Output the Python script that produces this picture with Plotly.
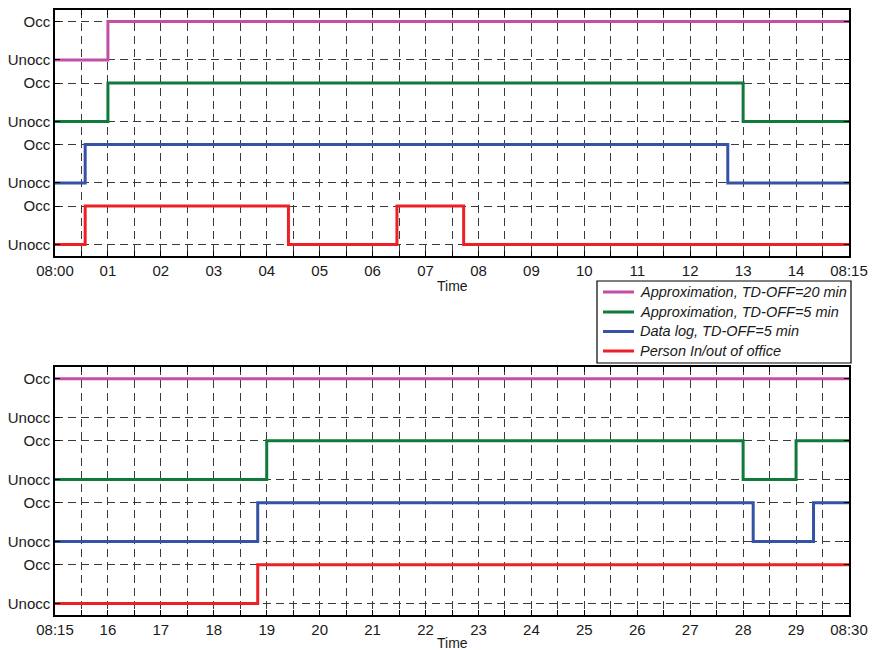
import plotly.graph_objects as go
from plotly.subplots import make_subplots

# ---- data: minutes after 08:00, state at each change (0 = Unocc, 1 = Occ) ----
series_names = [
    "Approximation, TD-OFF=20 min",
    "Approximation, TD-OFF=5 min",
    "Data log, TD-OFF=5 min",
    "Person In/out of office",
]
series_colors = ["#c24fa6", "#0f7a3c", "#3553a4", "#ec2027"]

# first window 08:00 - 08:15
top_times = [
    [0, 1, 15],
    [0, 1, 13, 15],
    [0, 0.57, 12.71, 15],
    [0, 0.57, 4.41, 6.46, 7.72, 15],
]
top_states = [
    [0, 1, 1],
    [0, 1, 0, 0],
    [0, 1, 0, 0],
    [0, 1, 0, 1, 0, 0],
]

# second window 08:15 - 08:30
bottom_times = [
    [15, 30],
    [15, 19, 28, 29, 30],
    [15, 18.83, 28.19, 29.33, 30],
    [15, 18.83, 30],
]
bottom_states = [
    [1, 1],
    [0, 1, 0, 1, 1],
    [0, 1, 0, 1, 1],
    [0, 1, 1],
]

top_ticktext = ["08:00"] + [f"{m:02d}" for m in range(1, 15)] + ["08:15"]
bottom_ticktext = ["08:15"] + [str(m) for m in range(16, 30)] + ["08:30"]

# vertical lane of each signal (top lane first)
lane_base = [4.8, 3.2, 1.6, 0.0]

FONT = "Liberation Sans, Arial, sans-serif"
TXT = "#1a1a1a"
GRID = "#3a3a3a"
DASH = "8px,5px"

W, H = 872, 650
M_L, M_R, M_T, M_B = 55, 23, 10, 35
PLOT_W = W - M_L - M_R
PLOT_H = H - M_T - M_B


def px_x(x):
    """pixel column -> paper x"""
    return (x - M_L) / PLOT_W


def px_y(y):
    """pixel row -> paper y"""
    return (H - M_B - y) / PLOT_H


fig = make_subplots(rows=2, cols=1)

for panel, (times, states) in enumerate([(top_times, top_states), (bottom_times, bottom_states)], start=1):
    for i in range(4):
        fig.add_trace(
            go.Scatter(
                x=times[i],
                y=[lane_base[i] + s for s in states[i]],
                mode="lines",
                line=dict(color=series_colors[i], width=3, shape="hv"),
                name=series_names[i],
                showlegend=False,
            ),
            row=panel, col=1,
        )

ytickvals = []
yticktext = []
for b in sorted(lane_base):
    ytickvals += [b, b + 1]
    yticktext += ["Unocc", "Occ"]

axis_common = dict(
    showline=True, linecolor="black", linewidth=1.5, mirror="ticks",
    ticks="inside", ticklen=5, tickcolor="black",
    showgrid=True, gridcolor=GRID, griddash=DASH, gridwidth=1,
    zeroline=False, automargin=False,
    tickfont=dict(family=FONT, size=15, color=TXT),
)

for r, (rng, txt) in enumerate([((0, 15), top_ticktext), ((15, 30), bottom_ticktext)], start=1):
    fig.update_xaxes(
        range=list(rng), tickmode="array",
        tickvals=list(range(rng[0], rng[1] + 1)), ticktext=txt,
        minor=dict(dtick=0.5, tick0=rng[0], showgrid=True, gridcolor=GRID,
                   griddash=DASH, gridwidth=1, ticks="inside", ticklen=5,
                   tickcolor="black"),
        **axis_common, row=r, col=1,
    )
    fig.update_yaxes(
        range=[-0.3, 6.1], tickmode="array", tickvals=ytickvals, ticktext=yticktext,
        **axis_common, row=r, col=1,
    )

# axis titles
for ty in (286, 643):
    fig.add_annotation(
        x=0.5, y=px_y(ty), xref="paper", yref="paper", text="Time", showarrow=False,
        xanchor="center", yanchor="middle", font=dict(family=FONT, size=14, color=TXT),
    )

# legend box with line samples and italic labels
fig.add_shape(
    type="rect", xref="paper", yref="paper",
    x0=px_x(597), x1=px_x(851), y0=px_y(363), y1=px_y(281),
    line=dict(color="black", width=1.2), fillcolor="white", layer="above",
)
for i, row_y in enumerate([292, 312, 331.5, 351]):
    fig.add_shape(
        type="line", xref="paper", yref="paper",
        x0=px_x(603), x1=px_x(634), y0=px_y(row_y), y1=px_y(row_y),
        line=dict(color=series_colors[i], width=3), layer="above",
    )
    fig.add_annotation(
        x=px_x(638), y=px_y(row_y), xref="paper", yref="paper",
        text="<i>" + series_names[i] + "</i>", showarrow=False,
        xanchor="left", yanchor="middle", font=dict(family=FONT, size=14.5, color=TXT),
    )

fig.update_layout(
    width=W, height=H,
    margin=dict(l=M_L, r=M_R, t=M_T, b=M_B),
    paper_bgcolor="white", plot_bgcolor="white",
    showlegend=False,
    xaxis=dict(domain=[0, 1]),
    yaxis=dict(domain=[px_y(256), 1]),
    xaxis2=dict(domain=[0, 1]),
    yaxis2=dict(domain=[0, px_y(367)]),
)

fig.write_html("out.html")
